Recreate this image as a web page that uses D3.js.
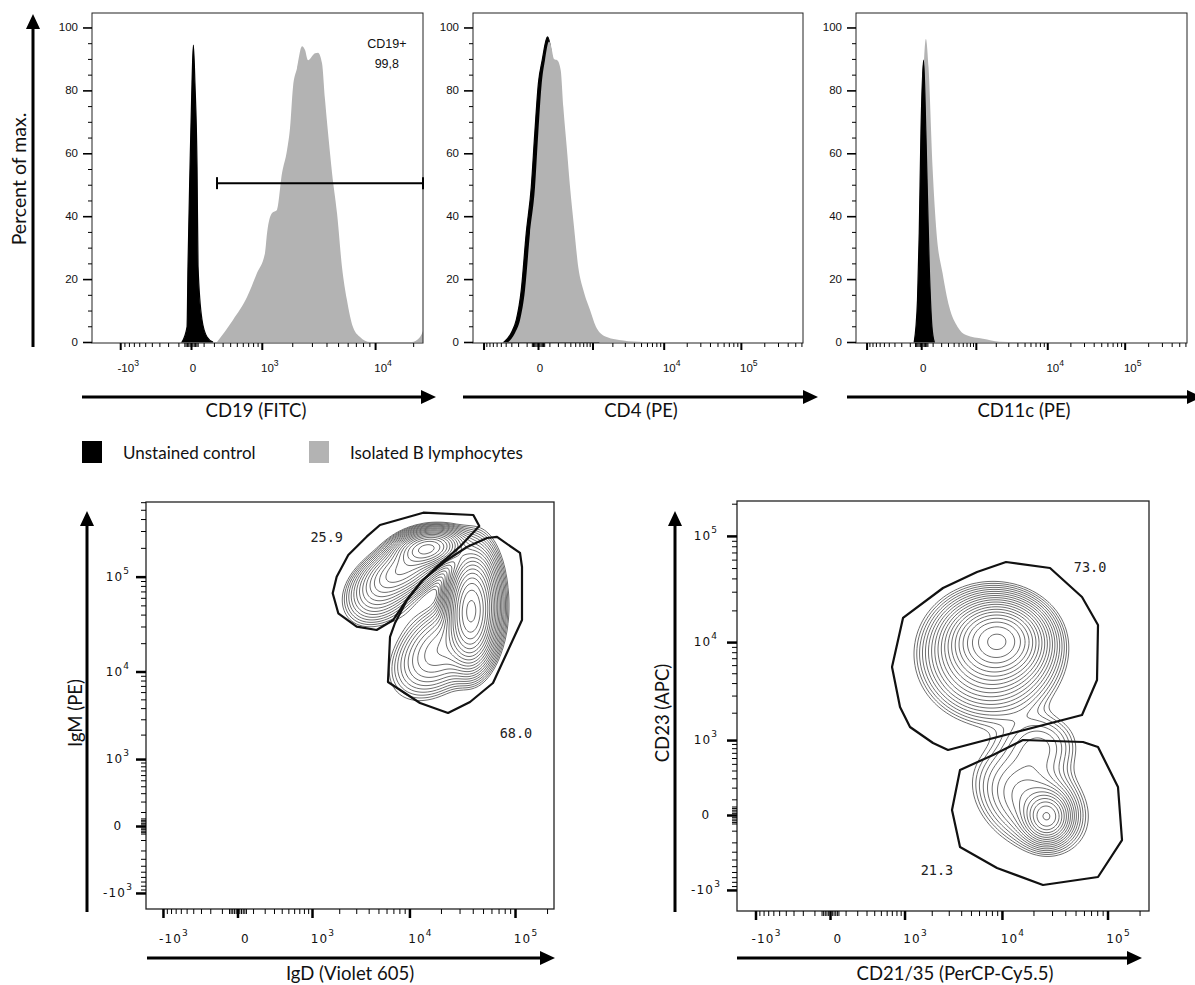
<!DOCTYPE html>
<html><head><meta charset="utf-8">
<script src="https://cdn.jsdelivr.net/npm/d3@7"></script>
<style>body{margin:0;background:#fff}svg{display:block}</style>
</head><body>
<svg id="chart" width="1195" height="985"></svg>
<script>
// ================= DATA =================
// Histograms: [fluorescence value, percent of max]
const cd19Unstained = [[-69,0],[-29,4.8],[-22,24],[-7,55.6],[7,82],[17,94.4],[29,82],[45,55.6],[53,24],[86,7],[131,1.6],[190,0]];
const cd19Bcells = [[234,0],[441,7],[678,14.3],[886,21.9],[1082,28.3],[1136,34.6],[1278,41],[1433,42],[1603,53.7],[1788,61],[1907,68],[2032,81],[2211,87],[2454,94],[2609,92.8],[2773,89.6],[3192,91.8],[3388,92],[3666,88.6],[3887,77],[4284,60],[4454,53.7],[4900,41],[5392,23.8],[5925,13.3],[6632,4.8],[7564,1.6],[9104,0],[19500,0],[22640,1.6],[23880,3.5]];
const cd4Unstained = [[-430,0],[-300,2.9],[-225,7],[-160,16.5],[-104,34.6],[-55,49.3],[-25,66.4],[3,82.3],[33,89.6],[81,97],[175,78],[273,55],[394,32],[565,14],[847,4],[1222,0]];
const cd4Bcells = [[-351,0],[-243,2.9],[-175,7],[-117,16.5],[-67,34.6],[-23,49.3],[2,66.4],[29,82.3],[57,89.6],[96,95.5],[114,94.5],[151,90],[192,89.6],[239,86.4],[278,74.7],[334,62],[394,49.3],[475,36.5],[572,23.8],[704,16.5],[913,10.2],[1168,4.4],[1654,1.6],[2858,0.5],[5427,0]];
const cd11cBcells = [[-57,0],[-29,13.3],[-10,45],[10,77],[37,96.3],[60,87.4],[99,55.6],[143,34.6],[219,21.9],[322,11.1],[481,4.8],[686,2.2],[1293,1],[2255,0.1],[3853,0]];
const cd11cUnstained = [[-57,0],[-29,13.3],[-15,34.6],[-2,66.4],[18,89.6],[37,66.4],[67,23.8],[93,4.8],[117,0]];
const cd19Gate = {from:234, to:23880, level:50.5, name:"CD19+", pct:"99,8", labelAt:[12400,93.4]};

// Axis ticks: [value, base text, exponent]
const cd19XLabels = [[-1000,"-10","3"],[0,"0",""],[1000,"10","3"],[10000,"10","4"]];
const peXLabels = [[0,"0",""],[10000,"10","4"],[100000,"10","5"]];
const biexLabels = [[-1000,"-10","3"],[0,"0",""],[1000,"10","3"],[10000,"10","4"],[100000,"10","5"]];
const pctTicks = [0,20,40,60,80,100];

// Contour clusters: [x value, y value, spread x, spread y (transformed units), correlation, relative height]
const igdIgmClusters = [
  [15050,199400,0.35,0.22,0.2,1.0],
  [9065,123200,0.48,0.38,0.5,0.45],
  [5178,64230,0.43,0.43,0.3,0.12],
  [37680,42600,0.24,0.63,0,1.1],
  [44800,56950,0.28,0.72,0,0.35],
  [19580,16950,0.54,0.60,0.4,0.2]
];
const igmHiGate = [[5178,346500],[13580,466000],[40470,441000],[46070,338500],[30300,205600],[18220,127000],[12630,85200],[9410,56950],[6980,35120],[4800,27550],[3030,29840],[1955,41300],[1704,66950],[1880,99950],[2487,168400],[3820,261700]];
const igdHiGate = [[6490,23250],[7255,32650],[9480,56950],[13480,92240],[22820,149400],[35280,204100],[54500,253700],[67700,260000],[111400,176900],[116300,126100],[116300,35120],[62050,7530],[37680,4675],[23330,3530],[12630,4560],[6200,7720]];
const igdIgmGateLabels = [["25.9",1467,260000],["68.0",102150,2090]];

const cd21Cd23Clusters = [
  [9160,10470,0.48,0.39,0,1.0],
  [7670,7520,0.69,0.64,0,0.4],
  [26870,-11,0.26,0.28,0,0.45],
  [18540,95,0.65,0.60,-0.3,0.15],
  [23080,874,0.48,0.39,0,0.08]
];
const cd23HiGate = [[960,16950],[2620,32500],[5733,45940],[10940,57000],[28700,50080],[57530,26750],[81380,14550],[79650,4290],[57530,1892],[2948,760],[2063,924],[1157,1405],[884,2293],[704,5755]];
const cd23LoGate = [[3895,407],[8203,657],[15900,1002],[58780,949],[81380,827],[125450,206],[136850,-178],[81380,-697],[24620,-874],[8965,-530],[3895,-247],[3235,28]];
const cd21Cd23GateLabels = [["73.0",68450,51180],["21.3",2270,-565]];

const legendItems = [["Unstained control","#000000"],["Isolated B lymphocytes","#b3b3b3"]];

// ================= DRAWING =================
const svg = d3.select("#chart");
const FT = "Lato, 'Open Sans', sans-serif";
const FA = "'Liberation Sans', Arial, sans-serif";
const FB = "'DejaVu Sans', Verdana, sans-serif";
const GRAY = "#b3b3b3";
const TITLE_SIZE = 18.5;
const symT = c => v => Math.sign(v) * Math.log1p(Math.abs(v) / c);

function biexMinor(dom){
  const t = [];
  [10,20,30,40,50].forEach(v => t.push(v,-v));
  for (let v = 100; v < 1000; v += 100) t.push(v,-v);
  for (let e = 3; e <= 6; e++) for (let m = 2; m <= 9; m++) t.push(m*10**e, -m*10**e);
  return t.filter(v => v > dom[0] && v < dom[1]);
}

function arrow(x1,y1,x2,y2,hl=15,hw=7){
  const a = Math.atan2(y2-y1,x2-x1), c=Math.cos(a), s=Math.sin(a);
  const bx = x2 - hl*c, by = y2 - hl*s;
  svg.append("line").attr("x1",x1).attr("y1",y1).attr("x2",bx+c).attr("y2",by+s).attr("stroke","#000").attr("stroke-width",3);
  svg.append("path").attr("d",`M${x2},${y2}L${bx - hw*s},${by + hw*c}L${bx + hw*s},${by - hw*c}Z`).attr("fill","#000");
}

function tickAxis(g, axis, tr, vals, len, w){
  g.append("g").attr("transform",tr)
    .call(axis.tickValues(vals).tickSize(len).tickFormat(""))
    .call(a => { a.select(".domain").remove(); a.selectAll("line").attr("stroke","#000").attr("stroke-width",w); a.selectAll("text").remove(); });
}

function expLabel(g, x, y, base, exp, font, size, anchor, sup, ls){
  const t = g.append("text").attr("x",x).attr("y",y).attr("text-anchor",anchor)
    .attr("font-family",font).attr("font-size",size).attr("fill","#111").attr("letter-spacing",ls||0);
  t.append("tspan").text(base);
  if (exp) t.append("tspan").attr("dy",-sup).attr("font-size",size*0.75).text(exp);
}

let clipId = 0;
function clipFor(box){
  const id = "clip"+(clipId++);
  svg.append("clipPath").attr("id",id).append("rect").attr("x",box[0]).attr("y",box[1]).attr("width",box[2]-box[0]).attr("height",box[3]-box[1]);
  return `url(#${id})`;
}

// ---------- Top row: histograms ----------
const topPanels = [
  {box:[92,13,423,343], dom:[-1907,23880], c:400, layers:[[cd19Unstained,"#000"],[cd19Bcells,GRAY]], majors:[-1000,0,1000,10000], labels:cd19XLabels, title:"CD19 (FITC)", tx:256, arrow:[82,436]},
  {box:[473,13,803,343], dom:[-1457,628500], c:250, layers:[[cd4Unstained,"#000"],[cd4Bcells,GRAY]], majors:[-1000,0,1000,10000,100000], labels:peXLabels, title:"CD4 (PE)", tx:641, arrow:[463,818]},
  {box:[856,13,1187,343], dom:[-1457,628500], c:250, layers:[[cd11cBcells,GRAY],[cd11cUnstained,"#000"]], majors:[-1000,0,1000,10000,100000], labels:peXLabels, title:"CD11c (PE)", tx:1024, arrow:[847,1202]}
];

topPanels.forEach((p,pi) => {
  const [x0,y0,x1,y1] = p.box;
  const x = d3.scaleSymlog().constant(p.c).domain(p.dom).range([x0,x1]);
  const y = d3.scaleLinear().domain([0,104.6]).range([y1-1,y0]);
  const g = svg.append("g");
  const cl = clipFor(p.box);
  const area = d3.area().x(d=>x(d[0])).y0(y(0)).y1(d=>y(d[1])).curve(d3.curveMonotoneX);
  p.layers.forEach(([data,col]) => g.append("path").attr("clip-path",cl).attr("d",area(data)).attr("fill",col)
    .attr("stroke",col==="#000"?"#000":"none").attr("stroke-width",1.2));
  g.append("rect").attr("x",x0).attr("y",y0).attr("width",x1-x0).attr("height",y1-y0).attr("fill","none").attr("stroke","#222").attr("stroke-width",1);
  // y ticks
  tickAxis(g, d3.axisLeft(y), `translate(${x0},0)`, d3.range(0,105,5).filter(v=>v%20), 4, 1);
  tickAxis(g, d3.axisLeft(y), `translate(${x0},0)`, pctTicks, 9, 1.6);
  pctTicks.forEach(v => g.append("text").attr("x",x0-14).attr("y",y(v)+4).attr("text-anchor","end")
    .attr("font-family",FA).attr("font-size",11.5).attr("fill","#111").text(v));
  // x ticks
  tickAxis(g, d3.axisBottom(x), `translate(0,${y1})`, biexMinor(p.dom), 4, 1);
  tickAxis(g, d3.axisBottom(x), `translate(0,${y1})`, p.majors, 7, 2);
  p.labels.forEach(([v,b,e]) => expLabel(g, x(v)+(e?8:2), 372, b, e, FA, 11.5, "middle", 6));
  // gate
  if (pi === 0) {
    const gy = y(cd19Gate.level), ga = x(cd19Gate.from), gb = x(cd19Gate.to);
    g.append("line").attr("x1",ga).attr("x2",gb).attr("y1",gy).attr("y2",gy).attr("stroke","#000").attr("stroke-width",2);
    [ga,gb].forEach(xx => g.append("line").attr("x1",xx).attr("x2",xx).attr("y1",gy-6).attr("y2",gy+6).attr("stroke","#000").attr("stroke-width",2));
    const lx = x(cd19Gate.labelAt[0]), ly = y(cd19Gate.labelAt[1]);
    g.append("text").attr("x",lx).attr("y",ly).attr("text-anchor","middle").attr("font-family",FA).attr("font-size",12.5).attr("fill","#111").text(cd19Gate.name);
    g.append("text").attr("x",lx).attr("y",ly+20).attr("text-anchor","middle").attr("font-family",FA).attr("font-size",12.5).attr("fill","#111").text(cd19Gate.pct);
  }
  arrow(p.arrow[0],397,p.arrow[1],397);
  svg.append("text").attr("x",p.tx).attr("y",410).attr("dominant-baseline","central").attr("text-anchor","middle")
    .attr("font-family",FT).attr("font-size",TITLE_SIZE).attr("fill","#111").text(p.title);
});

arrow(33,347,33,14);
svg.append("text").attr("transform","translate(18,179) rotate(-90)").attr("text-anchor","middle").attr("dominant-baseline","central")
  .attr("font-family",FT).attr("font-size",19.5).attr("fill","#111").text("Percent of max.");

// legend
legendItems.forEach(([name,col],i) => {
  const lx = [82,309][i];
  svg.append("rect").attr("x",lx).attr("y",441).attr("width",20).attr("height",22).attr("fill",col);
  svg.append("text").attr("x",lx+41).attr("y",452).attr("dominant-baseline","central")
    .attr("font-family",FT).attr("font-size",17).attr("fill","#111").text(name);
});

// ---------- Bottom row: contour plots ----------
function drawContours(g, xs, ys, c, clusters, box, cl){
  const T = symT(c), step = 2;
  const nx = Math.ceil((box[2]-box[0])/step)+1, ny = Math.ceil((box[3]-box[1])/step)+1;
  const comps = clusters.map(([cx,cy,sx,sy,r,w]) => ({mx:T(cx), my:T(cy), sx, sy, r, w}));
  const txs = d3.range(nx).map(i => T(xs.invert(box[0]+i*step)));
  const tys = d3.range(ny).map(j => T(ys.invert(box[1]+j*step)));
  const vals = new Float64Array(nx*ny); let mx = 0;
  for (let j=0;j<ny;j++) for (let i=0;i<nx;i++){
    let s = 0;
    for (const k of comps){
      const dx=(txs[i]-k.mx)/k.sx, dy=(tys[j]-k.my)/k.sy;
      s += k.w*Math.exp(-(dx*dx-2*k.r*dx*dy+dy*dy)/(2*(1-k.r*k.r)));
    }
    vals[i+j*nx] = s; if (s>mx) mx = s;
  }
  const n = 20, lo = 0.018, hi = 0.93;
  const thr = d3.range(n).map(i => mx*lo*Math.pow(hi/lo, i/(n-1)));
  const cs = d3.contours().size([nx,ny]).thresholds(thr)(vals);
  const path = d3.geoPath(d3.geoIdentity().scale(step).translate([box[0]-step/2,box[1]-step/2]));
  g.append("g").attr("clip-path",cl).selectAll("path").data(cs).join("path")
    .attr("d",path).attr("fill","none").attr("stroke","#5e5e5e").attr("stroke-width",0.9);
}

const botPanels = [
  {box:[146,502,554,909], xdom:[-1553,232400], ydom:[-1588,602700], c:250, clusters:igdIgmClusters, gates:[igmHiGate,igdHiGate], glabels:igdIgmGateLabels,
   xTitle:"IgD (Violet 605)", yTitle:"IgM (PE)", xt:[350,973], yt:[75,713], ax:87, xarrow:[147,555], ylx:28},
  {box:[737,501,1149,911], xdom:[-1614,245350], ydom:[-1715,211900], c:250, clusters:cd21Cd23Clusters, gates:[cd23HiGate,cd23LoGate], glabels:cd21Cd23GateLabels,
   xTitle:"CD21/35 (PerCP-Cy5.5)", yTitle:"CD23 (APC)", xt:[955,973], yt:[662,713], ax:675, xarrow:[737,1142], ylx:31}
];

botPanels.forEach(p => {
  const [x0,y0,x1,y1] = p.box;
  const xs = d3.scaleSymlog().constant(p.c).domain(p.xdom).range([x0,x1]);
  const ys = d3.scaleSymlog().constant(p.c).domain(p.ydom).range([y1,y0]);
  const g = svg.append("g");
  const cl = clipFor(p.box);
  drawContours(g, xs, ys, p.c, p.clusters, p.box, cl);
  const line = d3.line().x(d=>xs(d[0])).y(d=>ys(d[1])).curve(d3.curveLinearClosed);
  p.gates.forEach(gt => g.append("path").attr("clip-path",cl).attr("d",line(gt)).attr("fill","none").attr("stroke","#111").attr("stroke-width",2.2).attr("stroke-linejoin","round"));
  p.glabels.forEach(([t,vx,vy]) => g.append("text").attr("x",xs(vx)).attr("y",ys(vy)).attr("text-anchor","middle").attr("dominant-baseline","central")
    .attr("font-family","'DejaVu Sans Mono', monospace").attr("font-size",13.5).attr("fill","#222").text(t));
  g.append("rect").attr("x",x0).attr("y",y0).attr("width",x1-x0).attr("height",y1-y0).attr("fill","none").attr("stroke","#222").attr("stroke-width",1.3);
  // x axis
  tickAxis(g, d3.axisBottom(xs), `translate(0,${y1})`, biexMinor(p.xdom), 5, 1);
  tickAxis(g, d3.axisBottom(xs), `translate(0,${y1})`, biexLabels.map(d=>d[0]), 9, 2.5);
  biexLabels.forEach(([v,b,e]) => expLabel(g, xs(v)+(e?11:8), 943, b, e, FB, 12, "middle", 7, 1.2));
  // y axis
  tickAxis(g, d3.axisLeft(ys), `translate(${x0},0)`, biexMinor(p.ydom), 5, 1);
  tickAxis(g, d3.axisLeft(ys), `translate(${x0},0)`, biexLabels.map(d=>d[0]), 10, 2.5);
  biexLabels.forEach(([v,b,e]) => expLabel(g, x0-p.ylx, ys(v)+4, b, e, FB, 12, "middle", 7, 1.2));
  // arrows and titles
  arrow(p.ax,912,p.ax,511);
  arrow(p.xarrow[0],958,p.xarrow[1],958);
  svg.append("text").attr("x",p.xt[0]).attr("y",p.xt[1]).attr("text-anchor","middle").attr("dominant-baseline","central")
    .attr("font-family",FT).attr("font-size",TITLE_SIZE).attr("fill","#111").text(p.xTitle);
  svg.append("text").attr("transform",`translate(${p.yt[0]},${p.yt[1]}) rotate(-90)`).attr("text-anchor","middle").attr("dominant-baseline","central")
    .attr("font-family",FT).attr("font-size",TITLE_SIZE).attr("fill","#111").text(p.yTitle);
});
</script>
</body></html>
